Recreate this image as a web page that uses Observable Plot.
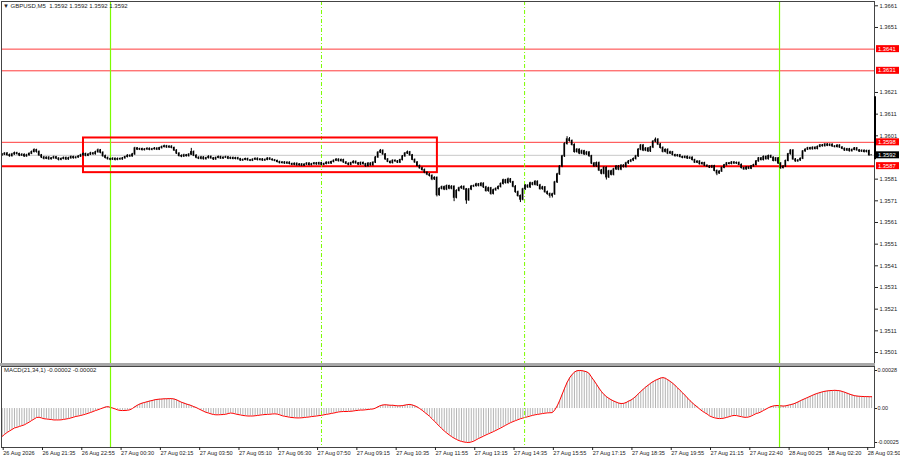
<!DOCTYPE html>
<html><head><meta charset="utf-8">
<script src="https://cdn.jsdelivr.net/npm/d3@7"></script>
<script src="https://cdn.jsdelivr.net/npm/@observablehq/plot@0.6"></script>
<style>
body{margin:0;background:#fff;width:900px;height:460px;overflow:hidden;font-family:"Liberation Sans",Arial,sans-serif;}
#wrap{position:relative;width:900px;height:460px;background:#fff;}
#main{position:absolute;left:0;top:0;}
#sep{position:absolute;left:0;top:363px;width:875px;height:3px;background:#a8a8a8;}
#macd{position:absolute;left:0;top:366px;}
.lbl{position:absolute;font-size:6px;color:#222;white-space:pre;line-height:7px;}
svg{display:block;}
</style></head><body>
<div id="wrap">
<div id="main"></div><div id="sep"></div><div id="macd"></div>
<div class="lbl" id="title" style="left:3px;top:3px"></div>
<div class="lbl" id="mlabel" style="left:4px;top:367px"></div>
</div>
<script>
const BASE = 1.35; // prices stored as pips above BASE
const titleText = "\u25BC GBPUSD,M5  1.3592 1.3592 1.3592 1.3592";
const macdTitle = "MACD(21,34,1) -0.00002 -0.00002";
const firstOpen = 92.0;
const closes = [
92.3,92.8,92.1,91.6,92.4,93.0,92.6,91.9,92.2,91.5,92.0,92.7,93.5,94.4,93.6,92.0,
91.0,90.4,90.9,90.2,90.6,91.1,90.5,89.9,90.3,90.8,90.1,90.6,91.2,90.7,91.0,91.4,
92.0,92.6,91.8,92.3,92.9,92.5,93.4,94.3,93.2,91.6,90.8,90.2,90.0,90.4,89.9,90.3,
90.1,90.6,91.2,91.8,91.5,92.4,95.2,94.6,94.9,94.4,94.7,95.0,94.5,94.8,95.1,94.6,
95.3,95.8,96.2,95.6,96.0,95.4,94.2,92.8,91.7,91.4,92.0,91.6,92.3,93.5,91.8,90.9,
90.4,91.0,90.2,90.7,91.3,90.6,90.1,90.8,91.2,90.5,90.9,91.1,90.4,90.8,90.3,90.7,
90.2,89.6,89.9,90.3,89.7,89.5,90.0,90.4,89.8,90.1,89.6,89.9,90.5,90.0,89.7,89.4,
88.9,88.4,88.7,88.2,88.6,88.0,87.6,88.1,87.4,87.8,87.2,87.7,88.2,87.5,87.9,88.3,
87.8,88.4,87.6,88.0,88.6,88.2,88.9,89.5,90.0,89.3,89.8,88.7,88.1,87.6,88.4,89.0,
88.3,87.7,88.5,87.9,87.0,88.2,87.4,88.6,91.0,93.2,94.1,92.4,90.1,89.0,88.4,89.5,
89.2,88.6,89.8,91.5,92.8,93.4,92.0,89.9,88.7,87.1,86.0,85.2,84.0,83.1,82.5,80.9,
81.6,73.6,76.5,77.3,76.2,77.8,76.6,77.5,72.4,75.6,76.8,77.4,76.3,71.2,76.2,77.6,
77.8,78.6,77.9,78.9,77.2,75.5,76.8,74.2,75.9,76.5,77.4,78.8,80.5,79.2,80.9,79.6,
77.5,75.0,73.2,71.5,76.3,78.0,77.2,79.1,78.4,79.8,78.1,76.4,77.2,75.0,74.1,73.3,
74.0,79.5,83.2,86.8,91.5,97.2,99.4,98.6,96.8,93.5,94.6,92.8,93.9,92.4,93.3,91.6,
88.2,86.9,88.4,85.0,83.5,86.2,81.8,84.6,83.0,85.5,86.8,85.4,87.2,86.6,88.3,89.1,
89.6,90.3,91.5,94.6,96.5,94.2,95.1,93.8,95.6,98.3,99.2,97.0,95.4,93.6,94.5,92.8,
93.4,92.1,91.6,92.0,91.2,90.8,91.3,90.5,90.9,89.8,88.6,89.1,87.9,88.4,87.2,86.8,
86.3,87.0,84.8,83.6,84.5,86.2,87.4,88.3,88.0,88.7,88.2,88.5,87.6,86.1,85.5,86.4,
85.8,86.9,87.5,89.2,90.6,89.8,91.3,90.2,91.7,90.9,89.4,90.6,88.2,86.1,86.8,89.4,
92.5,94.2,90.1,89.2,89.6,90.4,93.8,94.6,95.3,94.8,95.5,94.9,95.9,96.6,96.2,97.0,
96.4,96.9,96.1,95.8,96.5,95.6,95.0,94.2,94.8,93.9,94.5,95.2,94.3,93.7,94.1,93.5,94.0,92.0,92.0];
const highs = [
92.8,93.2,93.3,92.6,92.9,93.5,93.4,93.0,92.8,92.7,92.5,93.1,94.0,95.0,94.8,94.0,
92.4,91.5,91.3,91.4,91.0,91.6,91.5,90.9,90.8,91.2,91.2,91.1,91.7,91.6,91.4,91.9,
92.5,93.1,93.0,92.8,93.4,93.3,93.9,94.9,94.7,93.6,92.1,91.2,90.7,90.9,90.8,90.8,
90.8,91.0,91.6,92.3,92.2,92.9,95.7,95.6,95.3,95.3,95.1,95.5,95.4,95.2,95.6,95.5,
95.7,96.3,96.7,96.6,96.4,96.4,95.8,94.6,93.2,92.2,92.5,92.4,92.8,95.2,94.0,92.3,
91.3,91.5,91.4,91.1,91.8,91.7,91.0,91.2,91.7,91.6,91.3,91.6,91.5,91.2,91.2,91.1,
91.1,90.6,90.3,90.7,90.7,90.1,90.4,90.8,90.8,90.5,90.5,90.3,90.9,90.9,90.4,90.1,
89.8,89.3,89.1,89.1,89.0,89.0,88.4,88.5,88.5,88.2,88.2,88.1,88.6,88.6,88.3,88.7,
88.7,88.8,88.8,88.4,89.0,89.0,89.3,89.9,90.5,90.4,90.3,90.2,89.1,88.5,88.8,89.5,
89.4,88.7,88.9,88.9,88.3,88.6,88.6,89.0,91.4,93.7,94.7,94.5,92.8,90.5,89.4,89.9,
89.9,89.6,90.2,91.9,93.3,94.0,93.8,92.4,90.3,89.1,87.5,86.5,85.7,84.4,83.6,83.0,
82.1,82.0,77.0,77.8,77.8,78.3,78.2,78.0,77.9,76.1,77.3,77.9,77.9,76.7,76.7,78.1,
78.3,79.1,79.0,79.4,79.3,77.7,77.3,77.2,76.4,77.0,77.9,79.3,81.0,80.9,81.5,81.3,
80.0,78.0,75.5,73.7,76.8,78.5,78.4,79.6,79.5,80.3,80.2,78.6,77.7,77.6,75.5,74.6,
74.5,80.0,83.7,87.3,92.0,97.8,100.6,100.2,99.1,97.3,95.1,95.0,94.4,94.3,93.8,93.7,
92.0,88.7,88.9,88.9,85.5,86.7,86.7,85.1,85.1,86.0,87.3,87.3,87.7,87.7,88.8,89.6,
90.1,90.8,92.0,95.1,97.0,97.0,95.6,95.6,96.1,98.8,100.0,99.7,97.5,95.9,95.0,95.0,
93.9,93.8,92.5,92.4,92.4,91.6,91.7,91.7,91.3,91.3,90.2,89.5,89.5,88.8,88.8,87.6,
87.2,87.4,87.4,85.2,84.9,86.6,87.8,88.7,88.7,89.1,89.1,88.9,88.9,88.0,86.5,86.8,
86.8,87.3,87.9,89.6,91.0,91.0,91.7,91.7,92.1,92.1,91.3,91.0,91.0,88.6,87.2,89.8,
92.9,94.6,94.6,90.5,90.0,90.8,94.2,95.0,95.7,95.7,95.9,95.9,96.3,97.0,97.0,97.4,
97.4,97.3,97.3,96.5,96.9,96.9,96.0,95.4,95.2,95.2,94.9,95.6,95.6,94.7,94.5,94.5,94.4,94.4,92.0];
const lows = [
91.6,91.9,91.6,91.1,91.2,92.0,92.1,91.4,91.5,91.0,91.1,91.6,92.3,93.1,93.0,91.5,
90.5,89.9,90.0,89.7,89.8,90.2,90.0,89.4,89.5,89.9,89.6,89.7,90.2,90.2,90.3,90.6,
91.0,91.6,91.3,91.4,91.9,92.0,92.1,93.0,92.7,91.1,90.3,89.8,89.5,89.6,89.4,89.5,
89.7,89.7,90.2,90.8,91.0,91.1,92.0,94.2,94.2,94.0,94.0,94.3,94.1,94.1,94.4,94.2,
94.2,94.9,95.4,95.2,95.2,95.0,93.8,92.4,91.2,90.9,91.0,91.2,91.2,91.9,91.4,90.4,
90.0,89.9,89.8,89.8,90.3,90.2,89.6,89.7,90.4,90.1,90.1,90.5,90.0,90.0,89.9,89.9,
89.8,89.2,89.2,89.5,89.3,89.1,89.1,89.6,89.4,89.4,89.2,89.2,89.5,89.6,89.3,89.0,
88.5,88.0,88.0,87.8,87.8,87.6,87.2,87.2,87.0,87.0,86.8,86.8,87.3,87.1,87.1,87.5,
87.4,87.4,87.2,87.2,87.6,87.8,87.8,88.5,89.1,88.9,88.9,88.3,87.7,87.2,87.2,88.0,
87.9,87.3,87.3,87.5,86.4,86.6,87.0,87.0,88.2,90.6,92.8,92.0,89.7,88.6,88.0,88.0,
88.8,88.2,88.2,89.4,91.1,92.4,91.6,89.5,88.3,86.7,85.6,84.7,83.5,82.6,82.0,80.3,
80.4,72.8,73.1,76.0,75.7,75.7,76.1,76.1,70.6,71.9,75.1,76.3,75.8,69.4,70.8,75.7,
77.1,77.3,77.4,77.4,76.7,75.0,75.0,73.6,73.7,75.4,76.0,76.9,78.3,78.7,78.7,79.1,
77.0,74.5,72.7,70.2,71.0,75.8,76.7,76.7,77.9,77.9,77.6,75.9,75.9,74.5,73.6,72.2,
72.3,73.5,79.0,82.7,86.3,91.0,96.7,98.1,96.3,93.0,93.0,92.3,92.3,91.9,91.9,91.1,
87.7,86.4,86.4,84.5,83.0,83.0,80.6,81.3,82.5,82.5,85.0,84.9,84.9,86.1,86.1,87.8,
88.6,89.1,89.8,91.0,94.1,93.7,93.7,93.3,93.3,95.1,97.8,96.5,94.9,93.1,93.1,92.3,
92.4,91.7,91.2,91.2,90.8,90.4,90.4,90.1,90.1,89.4,88.2,88.2,87.5,87.5,86.8,86.4,
85.9,85.9,84.4,82.6,83.2,84.1,85.8,87.0,87.6,87.6,87.8,87.8,87.2,85.7,85.1,85.1,
85.4,85.4,86.5,87.1,88.8,89.4,89.4,89.8,89.8,90.5,89.0,89.0,87.8,85.5,85.7,86.4,
89.0,92.1,89.7,88.8,88.8,89.2,90.0,93.4,94.2,94.4,94.4,94.5,94.5,95.5,95.8,95.8,
96.0,96.0,95.7,95.4,95.4,95.2,94.6,93.8,93.8,93.5,93.5,94.1,93.9,93.3,93.3,93.1,93.1,91.6,92.0];
// MACD main (units of 0.00001), one per bar
const macdVals = [
-20.5,-19,-17.6,-16.5,-15.4,-14.3,-13.8,-13.2,-12.6,-12,-11,-10,-8.8,-7.7,-6.6,-6.4,
-6.9,-7.5,-7.7,-7.9,-8.1,-8.4,-8.4,-8.4,-8.3,-8,-7.7,-7.4,-6.9,-6.4,-5.8,-5.5,
-5.1,-4.6,-4.1,-3.5,-2.9,-2.2,-1.5,-0.9,-0.2,0.4,1.1,1.4,0.9,0.3,-0.3,-1,
-1.4,-1.5,-1.4,-1.3,-0.9,0,1.3,2.4,3.3,4,4.5,5,5.5,5.9,6.4,6.7,
6.9,7,7.2,7.2,7.3,7.3,7,6.4,5.5,4.6,4,3.3,2.8,2.2,1.4,0.7,
-0.2,-1.1,-2,-2.8,-3.3,-3.9,-4.4,-4.6,-4.6,-4.5,-4.4,-4.2,-3.7,-3.3,-3.5,-4,
-4.4,-4.7,-5.1,-5.3,-5.5,-5.5,-5.5,-5.3,-5.1,-4.8,-4.6,-4.4,-4.3,-4.2,-4,-3.9,
-4.1,-4.6,-5.3,-5.7,-6,-6.4,-6.6,-6.8,-6.9,-6.9,-6.8,-6.6,-6.4,-6.2,-5.9,-5.7,
-5.5,-5.2,-5,-4.6,-4.3,-4,-3.6,-3.3,-2.9,-2.5,-2.3,-2.2,-2.2,-2.1,-2,-1.8,
-1.5,-1.3,-1.1,-1.1,-0.9,-0.7,-0.5,-0.3,0.3,1.3,2.2,2.6,2.8,2.6,2.4,2.4,
2.2,2,2,2.2,2.5,2.9,3,2.6,2,1.1,0,-1.3,-2.8,-4.2,-5.7,-7.5,
-9.3,-11.2,-13,-14.8,-16.5,-18,-19.4,-20.7,-21.8,-22.8,-23.6,-24.2,-24.6,-24.9,-25,-24.6,
-24,-23,-22,-21.2,-20.3,-19.4,-18.6,-17.8,-17,-16.1,-15.2,-14.3,-13.3,-12.3,-11.3,-10.4,
-9.6,-8.9,-8.2,-7.5,-7,-6.5,-6,-5.5,-5,-4.6,-4.3,-4,-3.7,-3.4,-3.2,-3.1,
-3,-1,2,6,10.5,15,19.2,22.5,25,26.8,27.8,28,27.9,27.5,27,25.8,
23,20.5,17.8,15,12.5,10.4,8.8,7.5,6.4,5.5,4.7,4,3.7,3.8,4.4,5.4,
6.2,7.5,9,10.8,12.6,14.2,15.8,17.2,18.6,19.8,20.8,21.6,22.4,22.8,22.3,21.2,
20,18.6,17,15.2,13.4,11.6,9.8,7.8,5.9,4.2,2.6,1.2,-0.4,-1.8,-3,-4,
-5.4,-6.2,-6.8,-7.2,-7.4,-7.3,-7,-6.5,-6,-5.4,-5.1,-5.2,-5.6,-6,-6.4,-6.5,
-6.2,-5.5,-4.6,-3.7,-3.2,-2.4,-1.4,-0.4,0.6,1.4,1.9,2.2,2.2,2,1.8,2,
2.4,2.9,3.3,4,4.8,5.8,6.6,7.4,8.2,9,9.8,10.6,11.2,11.8,12.3,12.7,
13,13.2,13.3,13.4,13.3,13.1,12.6,12,11.3,10.6,10,9.5,9.2,9,8.9,8.8,8.8,8.7,8.7];
const allPriceTicks = [1.3501,1.3511,1.3521,1.3531,1.3541,1.3551,1.3561,1.3571,1.3581,1.3591,1.3601,1.3611,1.3621,1.3631,1.3641,1.3651,1.3661];
const hiddenTicks = [1.3591, 1.3631, 1.3641]; // covered by the level tags
const levelsThin = [1.3641, 1.3631, 1.3598];
const levelThick = [1.3587];
const levelLabels = [1.3641, 1.3631, 1.3598, 1.3587];
const currentPrice = [1.3592];
const zoneBars = [33.1, 177.2];
const zonePrices = [1.3584, 1.3600];
const vlineSolid = [44.1, 316.5];
const vlineDash = [130.0, 212.7];
const scaleMarker = [1.3619, 1.3590];
const timeLabels = ["26 Aug 2026","26 Aug 21:35","26 Aug 22:55","27 Aug 00:30","27 Aug 02:15","27 Aug 03:50","27 Aug 05:10","27 Aug 06:30","27 Aug 07:50","27 Aug 09:15","27 Aug 10:35","27 Aug 11:55","27 Aug 13:15","27 Aug 14:35","27 Aug 15:55","27 Aug 17:15","27 Aug 18:35","27 Aug 19:55","27 Aug 21:15","27 Aug 22:40","28 Aug 00:25","28 Aug 02:20","28 Aug 03:50"];
const barsPerLabel = 16;
const macdTickVals = [28, 0, -25];
const macdTickLabels = ["0.00028", "0.00", "-0.00025"];

document.getElementById("title").textContent = titleText;
document.getElementById("mlabel").textContent = macdTitle;

const px = p => BASE + p / 10000;
const bars = closes.map((c, i) => ({
  i, o: px(i ? closes[i - 1] : firstOpen), c: px(c), h: px(highs[i]), l: px(lows[i])
}));
const macd = macdVals.map((v, i) => ({i, v}));
const labelTicks = timeLabels.map((_, k) => k * barsPerLabel);
const priceTicks = allPriceTicks.filter(p => !hiddenTicks.includes(p));

const XS = {domain: [0, closes.length - 1], range: [1.7, 1.7 + (closes.length - 1) * 2.456], axis: null, label: null};
const GREEN = "#7cfc00";
const FONT = "Liberation Sans, Arial, sans-serif";

function priceBoxes(index, scales, values, dims) {
  const g = d3.create("svg:g").attr("text-anchor", "start");
  const y = scales.y;
  const x0 = dims.width - dims.marginRight;
  g.append("line").attr("x1", x0 + 1).attr("x2", x0 + 1)
    .attr("y1", y(scaleMarker[0])).attr("y2", y(scaleMarker[1]))
    .attr("stroke", "#000").attr("stroke-width", 2);
  const all = levelLabels.map(p => ({p, fill: "#ff0000"})).concat(currentPrice.map(p => ({p, fill: "#000"})));
  for (const d of all) {
    const yy = y(d.p);
    g.append("rect").attr("x", x0 + 2).attr("y", yy - 3.5).attr("width", 23).attr("height", 7).attr("fill", d.fill);
    g.append("text").attr("x", x0 + 4).attr("y", yy).attr("dy", "0.35em").attr("text-anchor", "start")
      .attr("fill", "#fff").attr("font-size", 5.8).attr("font-family", FONT).text(d.p.toFixed(4));
  }
  return g.node();
}

const main = Plot.plot({
  width: 900, height: 363,
  marginLeft: 1, marginRight: 26, marginTop: 1, marginBottom: 0,
  x: XS,
  y: {domain: [1.3501, 1.3661], range: [352, 5.3], axis: null, label: null},
  style: {background: "#fff", overflow: "visible", fontFamily: FONT, fontSize: "6px", color: "#222"},
  marks: [
    Plot.ruleY(currentPrice, {stroke: "#c8c8c8", strokeWidth: 1}),
    Plot.ruleY(levelsThin, {stroke: "#ff3b3b", strokeWidth: 1}),
    Plot.ruleY(levelThick, {stroke: "#ff0000", strokeWidth: 2}),
    Plot.ruleX(vlineSolid, {stroke: GREEN, strokeWidth: 1.2}),
    Plot.ruleX(vlineDash, {stroke: GREEN, strokeWidth: 1, strokeDasharray: "4,2,1,2"}),
    Plot.rect([0], {x1: () => zoneBars[0], x2: () => zoneBars[1], y1: () => zonePrices[0], y2: () => zonePrices[1],
      fill: "none", stroke: "#ff0000", strokeWidth: 2}),
    Plot.ruleX(bars, {x: "i", y1: "l", y2: "h", stroke: "#000", strokeWidth: 1}),
    Plot.rect(bars, {x1: d => d.i - 0.3, x2: d => d.i + 0.3, y1: "o", y2: "c", fill: "#000",
      insetTop: -0.5, insetBottom: -0.5}),
    Plot.frame({stroke: "#444"}),
    Plot.axisY({anchor: "right", ticks: priceTicks, tickFormat: d => d.toFixed(4), tickSize: 3, tickPadding: 2,
      fontSize: 5.8, fill: "#222", label: null}),
    priceBoxes
  ]
});
document.getElementById("main").appendChild(main);

const mplot = Plot.plot({
  width: 900, height: 94,
  marginLeft: 1, marginRight: 26, marginTop: 0, marginBottom: 13,
  x: XS,
  y: {domain: [-25, 28], range: [76, 4], axis: null, label: null},
  style: {background: "#fff", overflow: "visible", fontFamily: FONT, fontSize: "6px", color: "#222"},
  marks: [
    Plot.ruleX(macd, {x: "i", y1: 0, y2: "v", stroke: "#b4b4b4", strokeWidth: 1}),
    Plot.line(macd, {x: "i", y: "v", stroke: "#ff0000", strokeWidth: 1}),
    Plot.ruleX(vlineSolid, {stroke: GREEN, strokeWidth: 1.2}),
    Plot.ruleX(vlineDash, {stroke: GREEN, strokeWidth: 1, strokeDasharray: "4,2,1,2"}),
    Plot.frame({stroke: "#444"}),
    Plot.axisY({anchor: "right", ticks: macdTickVals, tickFormat: d => macdTickLabels[macdTickVals.indexOf(d)],
      tickSize: 2, tickPadding: 1, fontSize: 5.4, fill: "#222", label: null}),
    Plot.axisX({anchor: "bottom", ticks: labelTicks, tickFormat: d => timeLabels[Math.round(d / barsPerLabel)],
      tickSize: 3, tickPadding: 1, textAnchor: "start", dx: 1, fontSize: 5.6, fill: "#222", label: null})
  ]
});
document.getElementById("macd").appendChild(mplot);
</script>
</body></html>
